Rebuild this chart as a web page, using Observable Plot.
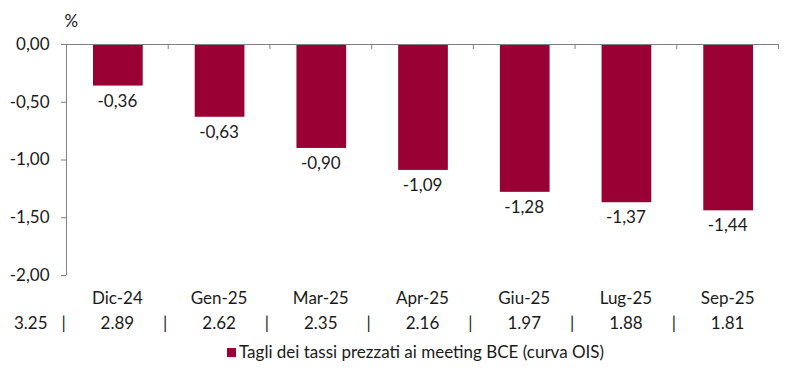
<!DOCTYPE html>
<html>
<head>
<meta charset="utf-8">
<script src="https://cdn.jsdelivr.net/npm/d3@7"></script>
<script src="https://cdn.jsdelivr.net/npm/@observablehq/plot@0.6"></script>
<style>
  html, body { margin: 0; padding: 0; background: #fff; }
  body { width: 800px; height: 374px; position: relative; overflow: hidden; font-family: Lato, sans-serif; color: #1a1a1a; }
  #legend { position: absolute; left: 227px; top: 341px; font-size: 17px; line-height: 22px; display: flex; align-items: center; }
  #legend .sw { width: 9px; height: 9px; background: #990033; margin-right: 3px; }
</style>
</head>
<body>
<div id="chart"></div>
<div id="legend"><span class="sw"></span><span>Tagli dei tassi prezzati ai meeting BCE (curva OIS)</span></div>
<script>
const categories = ["Dic-24", "Gen-25", "Mar-25", "Apr-25", "Giu-25", "Lug-25", "Sep-25"];
const cuts = [-0.36, -0.63, -0.90, -1.09, -1.28, -1.37, -1.44];
const impliedRates = ["3.25", "2.89", "2.62", "2.35", "2.16", "1.97", "1.88", "1.81"];
const yTicks = [0, -0.5, -1, -1.5, -2];

const data = categories.map((c, i) => ({i, c, v: cuts[i]}));
const boundaries = d3.range(1, categories.length + 1);
const fmt = d => d.toFixed(2).replace(".", ",");
const ink = "#1a1a1a";
const axisGray = "#808080";

const chart = Plot.plot({
  width: 800,
  height: 338,
  marginTop: 44,
  marginBottom: 63,
  marginLeft: 66,
  marginRight: 22,
  style: {fontFamily: "Lato, sans-serif", fontSize: "17px", color: ink, background: "#fff"},
  x: {type: "linear", domain: [0, categories.length], axis: null},
  y: {domain: [-2, 0]},
  marks: [
    Plot.rect(data, {x1: d => d.i, x2: d => d.i + 1, y1: 0, y2: d => d.v, fill: "#990033", insetLeft: 27, insetRight: 25}),
    Plot.axisY({ticks: yTicks, tickFormat: fmt, tickSize: 5, tickPadding: 12, stroke: axisGray, fill: ink, label: null, fontSize: 17}),
    Plot.ruleX([0], {y1: -2, y2: 0, stroke: axisGray}),
    Plot.ruleY([0], {x1: 0, x2: categories.length, stroke: axisGray}),
    Plot.ruleX(boundaries, {x: d => d, y1: 0, y2: 0, insetBottom: -5, stroke: axisGray}),
    Plot.text(data, {x: d => d.i + 0.5, y: d => d.v, text: d => fmt(d.v), dy: 15, fill: ink, fontSize: 17}),
    Plot.text(data, {x: d => d.i + 0.5, y: -2, text: d => d.c, dy: 23, fill: ink, fontSize: 17}),
    Plot.text(impliedRates.slice(1), {x: (d, i) => i + 0.5, y: -2, text: d => d, dy: 48, fill: ink, fontSize: 17}),
    Plot.text([impliedRates[0]], {x: 0, y: -2, text: d => d, textAnchor: "end", dx: -19, dy: 48, fill: ink, fontSize: 17}),
    Plot.text(d3.range(0, categories.length), {x: d => d, y: -2, text: () => "|", dx: -3, dy: 48, fill: ink, fontSize: 17}),
    Plot.text(["%"], {frameAnchor: "top-left", text: d => d, dx: -2, dy: -30, fill: ink, fontSize: 17})
  ]
});
document.getElementById("chart").appendChild(chart);
</script>
</body>
</html>
